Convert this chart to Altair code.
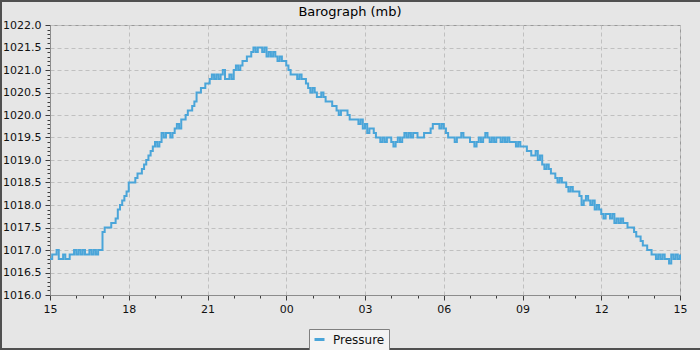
import altair as alt
import pandas as pd

# ---- data (5-minute readings starting 15:00) ----
START_HOUR = 15
STEP_MIN = 5
series_name = "Pressure"
chart_title = "Barograph (mb)"

pressure_mb = [
    # 15:00
    1016.8, 1016.9, 1016.9, 1017.0, 1016.8, 1016.8, 1016.9, 1016.8, 1016.8, 1016.9, 1016.9, 1017.0,
    # 16:00
    1016.9, 1017.0, 1016.9, 1017.0, 1016.9, 1016.9, 1017.0, 1016.9, 1017.0, 1016.9, 1017.0, 1017.0,
    # 17:00
    1017.4, 1017.5, 1017.5, 1017.5, 1017.6, 1017.6, 1017.7, 1017.9, 1018.0, 1018.1, 1018.2, 1018.3,
    # 18:00
    1018.5, 1018.5, 1018.5, 1018.6, 1018.7, 1018.7, 1018.8, 1018.9, 1019.0, 1019.1, 1019.2, 1019.3,
    # 19:00
    1019.4, 1019.3, 1019.4, 1019.6, 1019.5, 1019.6, 1019.6, 1019.5, 1019.6, 1019.7, 1019.8, 1019.7,
    # 20:00
    1019.9, 1019.9, 1020.0, 1020.1, 1020.1, 1020.2, 1020.3, 1020.5, 1020.5, 1020.6, 1020.6, 1020.7,
    # 21:00
    1020.7, 1020.8, 1020.9, 1020.8, 1020.9, 1020.8, 1020.9, 1021.0, 1020.8, 1020.8, 1020.9, 1020.8,
    # 22:00
    1021.0, 1021.1, 1021.0, 1021.1, 1021.2, 1021.2, 1021.3, 1021.3, 1021.4, 1021.5, 1021.4, 1021.5,
    # 23:00
    1021.5, 1021.4, 1021.5, 1021.3, 1021.4, 1021.3, 1021.4, 1021.3, 1021.2, 1021.3, 1021.2, 1021.2,
    # 00:00
    1021.1, 1021.0, 1020.9, 1020.9, 1020.9, 1020.8, 1020.9, 1020.8, 1020.8, 1020.7, 1020.6, 1020.5,
    # 01:00
    1020.6, 1020.5, 1020.4, 1020.4, 1020.5, 1020.4, 1020.3, 1020.3, 1020.3, 1020.2, 1020.2, 1020.1,
    # 02:00
    1020.0, 1020.1, 1020.1, 1020.1, 1020.0, 1019.9, 1019.9, 1019.9, 1019.9, 1019.8, 1019.9, 1019.7,
    # 03:00
    1019.8, 1019.6, 1019.7, 1019.7, 1019.6, 1019.5, 1019.5, 1019.4, 1019.5, 1019.4, 1019.5, 1019.5,
    # 04:00
    1019.4, 1019.3, 1019.4, 1019.5, 1019.4, 1019.5, 1019.6, 1019.5, 1019.6, 1019.5, 1019.6, 1019.6,
    # 05:00
    1019.5, 1019.5, 1019.5, 1019.6, 1019.6, 1019.6, 1019.7, 1019.8, 1019.8, 1019.8, 1019.7, 1019.8,
    # 06:00
    1019.7, 1019.6, 1019.5, 1019.5, 1019.5, 1019.4, 1019.5, 1019.5, 1019.6, 1019.5, 1019.5, 1019.5,
    # 07:00
    1019.4, 1019.4, 1019.3, 1019.4, 1019.5, 1019.4, 1019.5, 1019.6, 1019.5, 1019.4, 1019.5, 1019.4,
    # 08:00
    1019.5, 1019.5, 1019.4, 1019.5, 1019.4, 1019.5, 1019.4, 1019.4, 1019.4, 1019.3, 1019.4, 1019.3,
    # 09:00
    1019.3, 1019.3, 1019.2, 1019.2, 1019.1, 1019.1, 1019.2, 1019.0, 1019.1, 1018.9, 1018.8, 1018.9,
    # 10:00
    1018.8, 1018.7, 1018.7, 1018.6, 1018.5, 1018.6, 1018.5, 1018.5, 1018.4, 1018.3, 1018.4, 1018.3,
    # 11:00
    1018.3, 1018.3, 1018.2, 1018.0, 1018.1, 1018.2, 1018.1, 1018.0, 1018.1, 1017.9, 1018.0, 1017.9,
    # 12:00
    1017.8, 1017.7, 1017.8, 1017.8, 1017.7, 1017.8, 1017.6, 1017.7, 1017.6, 1017.7, 1017.6, 1017.6,
    # 13:00
    1017.5, 1017.5, 1017.5, 1017.4, 1017.3, 1017.3, 1017.2, 1017.1, 1017.1, 1017.0, 1017.0, 1016.9,
    # 14:00
    1016.9, 1016.8, 1016.9, 1016.8, 1016.9, 1016.8, 1016.8, 1016.7, 1016.9, 1016.8, 1016.9, 1016.8,
    # 15:00
    1016.9,
]

x_tick_minutes = list(range(0, 24 * 60 + 1, 60))          # hourly ticks
y_tick_values = [round(1016.0 + i * 0.1, 1) for i in range(61)]  # 0.1 mb ticks

minutes = [i * STEP_MIN for i in range(len(pressure_mb))]
df = pd.DataFrame({"minute": minutes, "pressure": pressure_mb, "series": series_name})

# ---- styling ----
FONT = "DejaVu Sans"
BG = "#e6e6e6"
LINE = "#4aa5d9"
GRID = "#c0c0c0"
AXIS = "#8c8c8c"
TICK = "#3c3c3c"

major_x = "datum.value % 180 == 0"
major_y = "abs(datum.value * 2 - round(datum.value * 2)) < 0.01"

x_axis = alt.Axis(
    values=x_tick_minutes,
    labelExpr=f"({major_x}) ? format((datum.value / 60 + {START_HOUR}) % 24, '02d') : ''",
    labelOverlap=False, labelFlush=False,
    labelFont=FONT, labelFontSize=11, labelColor="#111111", labelPadding=3,
    tickColor=TICK,
    tickSize={"condition": {"test": major_x, "value": 5}, "value": 3},
    domainColor=AXIS,
    grid=True, gridColor=GRID, gridDash=[4, 3],
    gridOpacity={"condition": {"test": major_x, "value": 1}, "value": 0},
    title=None,
)
y_axis = alt.Axis(
    values=y_tick_values,
    labelExpr=f"({major_y}) ? format(datum.value, '.1f') : ''",
    labelOverlap=False, labelFlush=False,
    labelFont=FONT, labelFontSize=11, labelColor="#111111", labelPadding=4,
    tickColor=TICK,
    tickSize={"condition": {"test": major_y, "value": 5}, "value": 3},
    domainColor=AXIS,
    grid=True, gridColor=GRID, gridDash=[4, 3],
    gridOpacity={"condition": {"test": major_y, "value": 1}, "value": 0},
    title=None,
)

line = alt.Chart(df).mark_line(interpolate="step-after", strokeWidth=2).encode(
    x=alt.X("minute:Q", scale=alt.Scale(domain=[0, 1440], nice=False, zero=False), axis=x_axis),
    y=alt.Y("pressure:Q", scale=alt.Scale(domain=[1016.0, 1022.0], nice=False, zero=False), axis=y_axis),
    color=alt.Color(
        "series:N",
        scale=alt.Scale(domain=[series_name], range=[LINE]),
        legend=alt.Legend(
            title=None, orient="none", legendX=259, legendY=304,
            direction="horizontal",
            fillColor="#f3f3f3", strokeColor="#7f7f7f", padding=4,
            symbolType="stroke", symbolSize=100, symbolStrokeWidth=3,
            labelFont=FONT, labelFontSize=12, labelColor="#111111", labelOffset=7,
        ),
    ),
)

frame = alt.Chart(alt.Data(values=[{}])).mark_rect(
    fillOpacity=0, stroke="#505050", strokeWidth=2
).encode(
    x=alt.value(-49), x2=alt.value(652), y=alt.value(-24), y2=alt.value(324)
)

chart = alt.layer(line, frame).properties(
    width=630,
    height=270,
    title=alt.TitleParams(
        chart_title, font=FONT, fontSize=13, fontWeight="normal", color="#000000",
        anchor="middle", dx=-15, dy=25, offset=6,
    ),
    autosize=alt.AutoSizeParams(type="none"),
    padding={"left": 50, "top": 25, "right": 20, "bottom": 55},
).configure(
    background=BG,
).configure_view(
    stroke="#999999", fill=BG,
)

chart.save("out.html", embed_options={"renderer": "svg", "actions": False})
